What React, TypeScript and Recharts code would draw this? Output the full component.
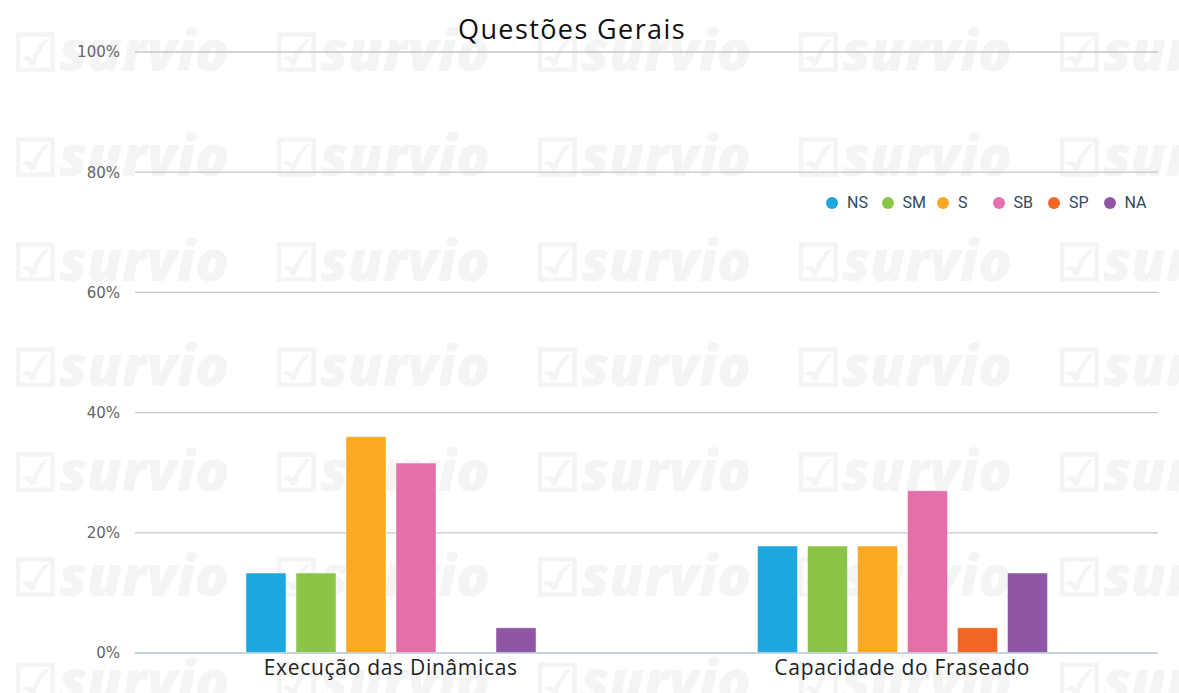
import { BarChart, Bar, XAxis, YAxis, CartesianGrid } from 'recharts'

const categories = ['Execução das Dinâmicas', 'Capacidade do Fraseado']
const seriesKeys = ['NS', 'SM', 'S', 'SB', 'SP', 'NA']
const seriesColors = ['#1fa8e0', '#8bc548', '#fba825', '#e66fab', '#f26724', '#8f56a3']
const ns = [13.3, 17.8]
const sm = [13.3, 17.8]
const s = [36, 17.8]
const sb = [31.6, 27]
const sp = [0, 4.2]
const na = [4.2, 13.3]
const yTicks = [0, 20, 40, 60, 80, 100]

const seriesValues = [ns, sm, s, sb, sp, na]

const data = categories.map((categoria, i) => {
    const row: Record<string, string | number> = { categoria }
    seriesKeys.forEach((k, j) => {
        row[k] = seriesValues[j][i]
    })
    return row
})

const wmRows = [0, 1, 2, 3, 4, 5, 6]
const wmCols = [0, 1, 2, 3, 4]

// faint "survio" watermark tiled behind the chart
function Watermark() {
    return (
        <div style={{ position: 'absolute', left: 0, top: 0, width: 1179, height: 693, overflow: 'hidden' }}>
            {wmRows.map((r) =>
                wmCols.map((c) => (
                    <div
                        key={r + '-' + c}
                        style={{
                            position: 'absolute',
                            left: 12 + c * 261,
                            top: 14 + r * 105,
                            fontFamily: '"Open Sans", sans-serif',
                            fontWeight: 800,
                            fontStyle: 'italic',
                            fontSize: 56,
                            lineHeight: '70px',
                            color: '#f4f4f4',
                            whiteSpace: 'nowrap'
                        }}
                    >
                        <span style={{ fontStyle: 'normal', fontSize: 52 }}>☑</span>survio
                    </div>
                ))
            )}
        </div>
    )
}

function ChartLegend() {
    return (
        <div
            style={{
                position: 'absolute',
                left: 826,
                top: 193,
                display: 'flex',
                alignItems: 'center',
                fontFamily: 'Roboto, sans-serif',
                fontSize: 16,
                color: '#34495e'
            }}
        >
            {seriesKeys.map((k, i) => (
                <div key={k} style={{ display: 'flex', alignItems: 'center', width: 55.5 }}>
                    <span
                        style={{
                            display: 'inline-block',
                            width: 12,
                            height: 12,
                            borderRadius: 6,
                            background: seriesColors[i],
                            marginRight: 9
                        }}
                    />
                    <span>{k}</span>
                </div>
            ))}
        </div>
    )
}

export default function App() {
    return (
        <div style={{ position: 'absolute', left: 0, top: 0, width: 1179, height: 693, background: '#fff' }}>
            <Watermark />
            <div
                style={{
                    position: 'absolute',
                    left: 0,
                    top: 10,
                    width: 1144,
                    textAlign: 'center',
                    fontFamily: '"Open Sans", sans-serif',
                    fontSize: 27,
                    letterSpacing: 1.4,
                    lineHeight: '38px',
                    color: '#111'
                }}
            >
                Questões Gerais
            </div>
            <div style={{ position: 'absolute', left: 0, top: 0 }}>
                <BarChart
                    width={1179}
                    height={693}
                    data={data}
                    margin={{ top: 52, right: 21, bottom: 0, left: 0 }}
                    barSize={40}
                    barGap={10}
                >
                    <CartesianGrid vertical={false} stroke="#c6c6c6" strokeWidth={1.3} />
                    <XAxis
                        dataKey="categoria"
                        height={40}
                        axisLine={{ stroke: '#c5d3e6', strokeWidth: 1.3 }}
                        tickLine={{ stroke: '#c5d3e6' }}
                        tickSize={5}
                        tickMargin={2}
                        tick={{ fontSize: 21, letterSpacing: 0.7, fill: '#222', fontFamily: '"Open Sans", sans-serif' }}
                    />
                    <YAxis
                        domain={[0, 100]}
                        ticks={yTicks}
                        width={135}
                        axisLine={false}
                        tickLine={false}
                        tickSize={0}
                        tickMargin={15}
                        tickFormatter={(v) => v + '%'}
                        tick={{ fontSize: 15, fill: '#666', fontFamily: '"DejaVu Sans", sans-serif' }}
                    />
                    {seriesKeys.map((k, i) => (
                        <Bar
                            key={k}
                            dataKey={k}
                            fill={seriesColors[i]}
                            stroke="rgba(255,255,255,0.45)"
                            strokeWidth={1}
                            isAnimationActive={false}
                        />
                    ))}
                </BarChart>
            </div>
            <ChartLegend />
        </div>
    )
}
